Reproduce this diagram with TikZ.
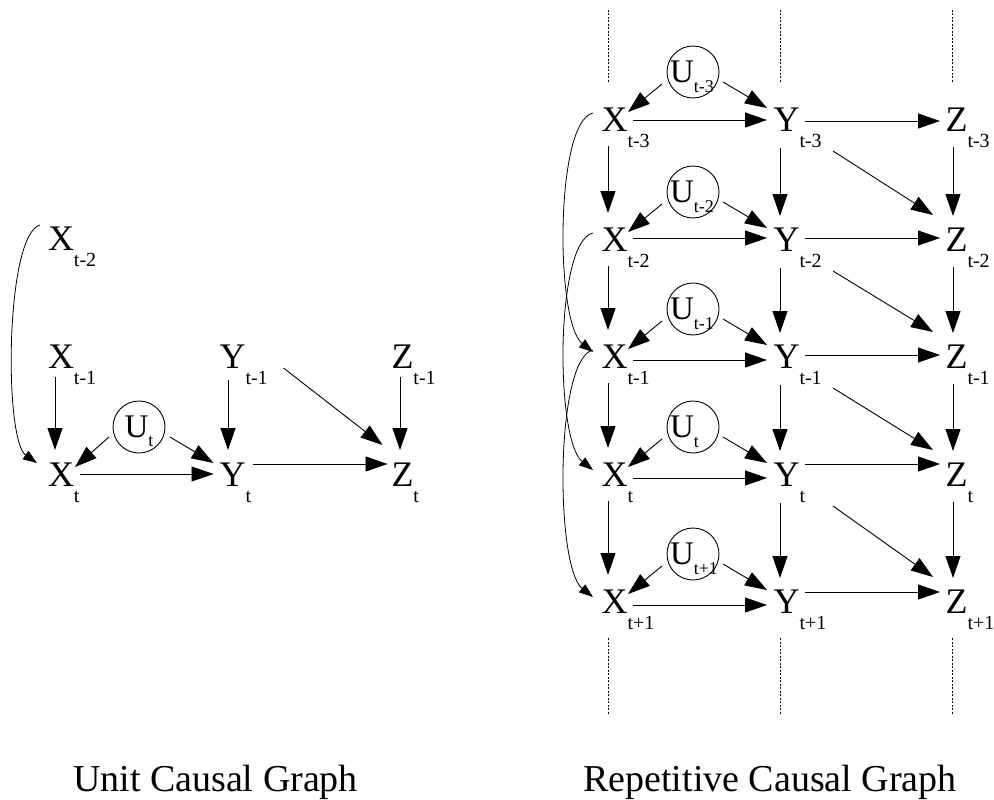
\documentclass[tikz,border=0pt]{standalone}
\usepackage{fontspec}
\setmainfont{Liberation Serif}
\usetikzlibrary{arrows.meta}
\newcommand{\myvar}[2]{#1\rlap{\raisebox{-16pt}[0pt][0pt]{\fontsize{20}{20}\selectfont #2}}}
\newcommand{\myu}[1]{U\raisebox{-9pt}[0pt][0pt]{\fontsize{18}{18}\selectfont #1}}
\newcommand{\myul}[1]{\makebox[46pt][l]{U\raisebox{-10pt}[0pt][0pt]{\fontsize{18}{18}\selectfont #1}}}
\tikzset{
  var/.style={inner sep=0pt, font=\fontsize{36}{36}\selectfont},
  unode/.style={draw, circle, line width=0.9pt, minimum size=52pt, inner sep=0pt, font=\fontsize{33}{33}\selectfont},
  arr/.style={draw, line width=0.9pt, -{Triangle[length=22pt,width=15pt]}},
  lagarc/.style={draw, line width=0.8pt, -{Triangle[length=14pt,width=10pt]}},
  guide/.style={line width=0.8pt, dash pattern=on 2pt off 1.5pt},
  title/.style={anchor=base, inner sep=0pt, font=\fontsize{38}{38}\selectfont}
}
\begin{document}
\begin{tikzpicture}[x=1pt,y=-1pt]
\useasboundingbox (0,0) rectangle (994,800);

% ---------- Unit causal graph ----------
\node[var] (Xa) at (61,239) {\myvar{X}{t-2}};
\node[var] (Xb) at (61,357) {\myvar{X}{t-1}};
\node[var] (Yb) at (232.5,357) {\myvar{Y}{t-1}};
\node[var] (Zb) at (402.5,357) {\myvar{Z}{t-1}};
\node[var] (Xc) at (61,475) {\myvar{X}{t}};
\node[var] (Yc) at (232.5,475) {\myvar{Y}{t}};
\node[var] (Zc) at (402.5,475) {\myvar{Z}{t}};
\node[unode] (Uc) at (139,427) {\myu{t}};

\draw[arr] ([shift={(-6,20)}]Xb.center) -- ([shift={(-6,-25)}]Xc.center);
\draw[arr] ([shift={(-4.5,23)}]Yb.center) -- ([shift={(-4.5,-25)}]Yc.center);
\draw[arr] ([shift={(-2.5,20)}]Zb.center) -- ([shift={(-2.5,-25)}]Zc.center);
\draw[arr] ([shift={(51,11)}]Yb.center) -- ([shift={(-20,-30)}]Zc.center);
\draw[arr] ([shift={(19,-1)}]Xc.center) -- ([shift={(-19,-1)}]Yc.center);
\draw[arr] ([shift={(20,-11)}]Yc.center) -- ([shift={(-15,-11)}]Zc.center);
\draw[arr] ([shift={(-30,10)}]Uc.center) -- ([shift={(14,-8)}]Xc.center);
\draw[arr] ([shift={(31,10)}]Uc.center) -- ([shift={(-19,-12)}]Yc.center);
\draw[lagarc] ([shift={(-21,-14)}]Xa.center) .. controls +(-35,10) and +(-33,-23) .. ([shift={(-24,-12)}]Xc.center);

% ---------- Repetitive causal graph ----------
\foreach \i/\r/\s in {1/120/t-3, 2/240/t-2, 3/357/t-1, 4/475/t, 5/602/t+1} {
  \node[var] (RX\i) at (614.5,\r) {\myvar{X}{\s}};
  \node[var] (RY\i) at (786.5,\r) {\myvar{Y}{\s}};
  \node[var] (RZ\i) at (956.5,\r) {\myvar{Z}{\s}};
  \node[unode] (RU\i) at (693,\r-48) {\myul{\s}};
}
\foreach \i/\a/\b in {1/0/1, 2/-2/-2, 3/3/-2, 4/3/-11, 5/3/-10} {
  \draw[arr] ([shift={(18.5,\a)}]RX\i.center) -- ([shift={(-19.5,\a)}]RY\i.center);
  \draw[arr] ([shift={(18.5,\b)}]RY\i.center) -- ([shift={(-16.5,\b)}]RZ\i.center);
  \draw[arr] ([shift={(-31,12)}]RU\i.center) -- ([shift={(13.5,-8)}]RX\i.center);
  \draw[arr] ([shift={(30,10)}]RU\i.center) -- ([shift={(-19.5,-12)}]RY\i.center);
}
\foreach \i/\j in {1/2, 2/3, 3/4, 4/5} {
  \draw[arr] ([shift={(-6.5,26)}]RX\i.center) -- ([shift={(-6.5,-27)}]RX\j.center);
  \draw[arr] ([shift={(-6.5,28)}]RY\i.center) -- ([shift={(-6.5,-24)}]RY\j.center);
  \draw[arr] ([shift={(-3.5,27)}]RZ\i.center) -- ([shift={(-3.5,-24)}]RZ\j.center);
  \draw[arr] ([shift={(46.5,31)}]RY\i.center) -- ([shift={(-23.5,-25)}]RZ\j.center);
}
\foreach \i/\j in {1/3, 2/4, 3/5} {
  \draw[lagarc] ([shift={(-21.5,-7)}]RX\i.center) .. controls +(-38,8) and +(-38,-30) .. ([shift={(-21.5,-5)}]RX\j.center);
}
\foreach \x in {608.3, 780, 952.7} {
  \draw[guide] (\x,10) -- (\x,83);
  \draw[guide] (\x,638) -- (\x,715);
}

\node[title] (t1) at (215.5,791) {Unit Causal Graph};
\node[title] (t2) at (770,791) {Repetitive Causal Graph};
\end{tikzpicture}
\end{document}
